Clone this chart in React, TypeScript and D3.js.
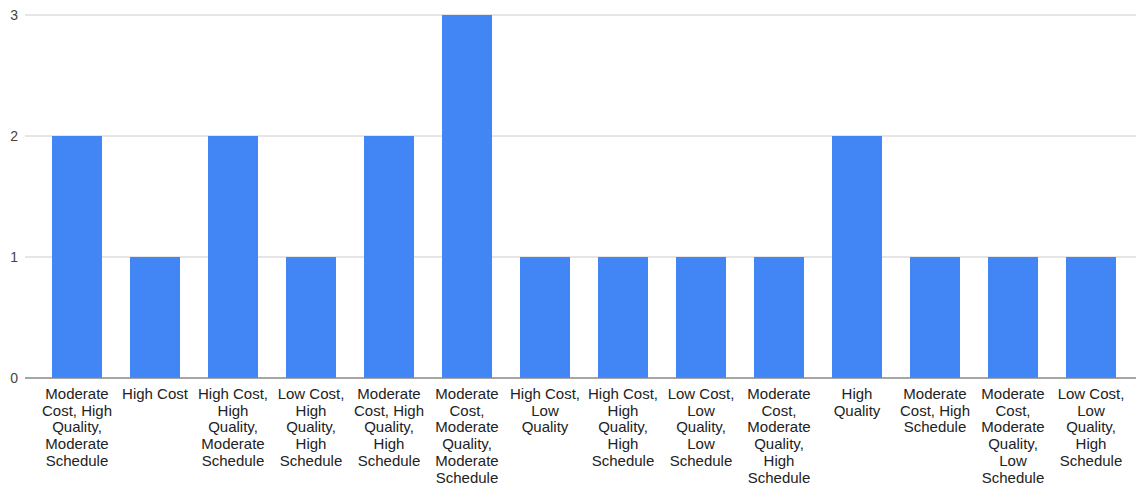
import React from "react";
import * as d3 from "d3";

const categories = [
  "Moderate Cost, High Quality, Moderate Schedule",
  "High Cost",
  "High Cost, High Quality, Moderate Schedule",
  "Low Cost, High Quality, High Schedule",
  "Moderate Cost, High Quality, High Schedule",
  "Moderate Cost, Moderate Quality, Moderate Schedule",
  "High Cost, Low Quality",
  "High Cost, High Quality, High Schedule",
  "Low Cost, Low Quality, Low Schedule",
  "Moderate Cost, Moderate Quality, High Schedule",
  "High Quality",
  "Moderate Cost, High Schedule",
  "Moderate Cost, Moderate Quality, Low Schedule",
  "Low Cost, Low Quality, High Schedule",
];
const counts = [2, 1, 2, 1, 2, 3, 1, 1, 1, 1, 2, 1, 1, 1];
const yTicks = [0, 1, 2, 3];

const W = 1138;
const H = 486;
const FONT = "Arial, 'Liberation Sans', sans-serif";
const FS = 15;

let ctx: CanvasRenderingContext2D | null = null;
function measure(t: string): number {
  if (!ctx) ctx = document.createElement("canvas").getContext("2d");
  if (!ctx) return t.length * 7.5;
  ctx.font = `${FS}px ${FONT}`;
  return ctx.measureText(t).width;
}
function wrap(label: string, maxW: number): string[] {
  const words = label.split(" ");
  const lines: string[] = [];
  let cur = "";
  for (const w of words) {
    const cand = cur ? cur + " " + w : w;
    if (cur && measure(cand) > maxW) {
      lines.push(cur);
      cur = w;
    } else cur = cand;
  }
  if (cur) lines.push(cur);
  return lines;
}

export default function App() {
  const x = d3
    .scaleBand<string>()
    .domain(categories)
    .range([38, 1130])
    .paddingInner(28 / 78)
    .paddingOuter(14 / 78);
  const y = d3.scaleLinear().domain([0, 3]).range([378, 15]);

  return (
    <div style={{ position: "absolute", left: 0, top: 0 }}>
      <svg width={W} height={H} style={{ display: "block", fontFamily: FONT }}>
        <rect width={W} height={H} fill="#fff" />
        {yTicks.map((t) => (
          <g key={t}>
            <line
              x1={25}
              x2={1136}
              y1={y(t)}
              y2={y(t)}
              stroke={t === 0 ? "#888" : "#ccc"}
              strokeWidth={1}
            />
            <text x={18} y={y(t) + 5} textAnchor="end" fontSize={14} fill="#444">
              {t}
            </text>
          </g>
        ))}
        {categories.map((c, i) => (
          <rect
            key={c}
            x={x(c)}
            width={x.bandwidth()}
            y={y(counts[i])}
            height={y(0) - y(counts[i])}
            fill="#4285F4"
          />
        ))}
        <line x1={25} x2={1136} y1={y(0)} y2={y(0)} stroke="#888" strokeWidth={1} />
        {categories.map((c) => {
          const cx = (x(c) as number) + x.bandwidth() / 2;
          const lines = wrap(c, 74);
          return (
            <text key={c} x={cx} y={399} textAnchor="middle" fontSize={FS} fill="#222">
              {lines.map((l, j) => (
                <tspan key={j} x={cx} dy={j === 0 ? 0 : 16.7}>
                  {l}
                </tspan>
              ))}
            </text>
          );
        })}
      </svg>
    </div>
  );
}
